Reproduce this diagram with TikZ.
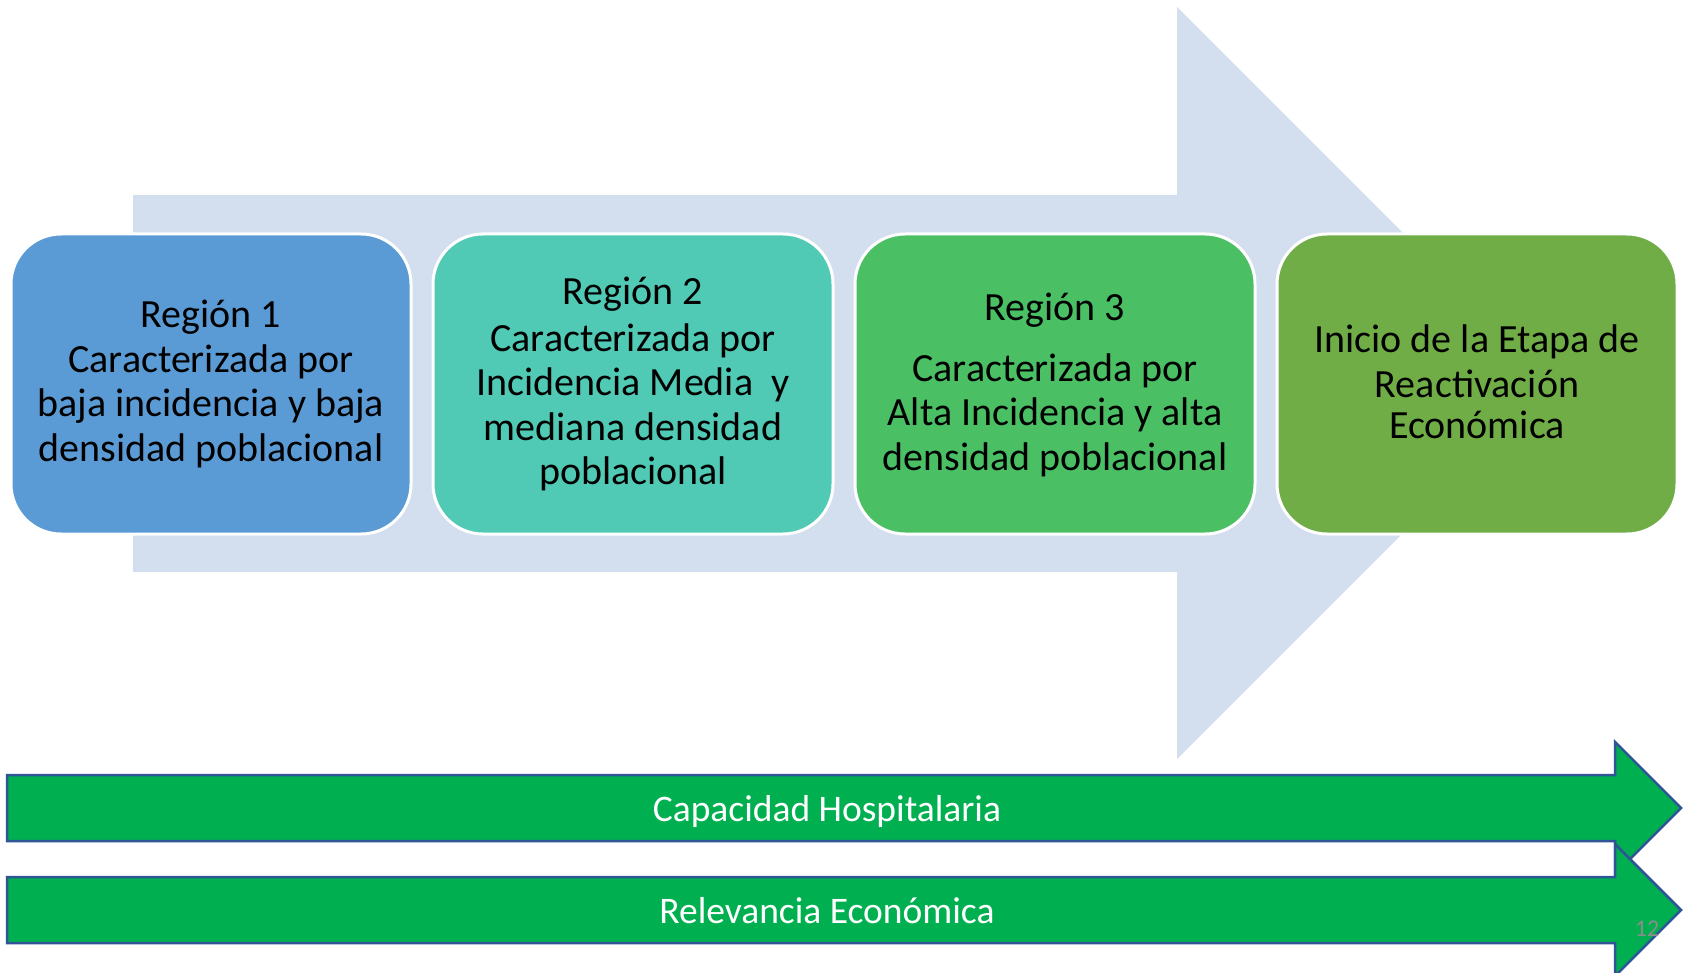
\documentclass[tikz,border=0pt]{standalone}
\usepackage{fontspec}
\setmainfont{Carlito}
\definecolor{bigarrow}{HTML}{D3DEEF}
\definecolor{boxA}{HTML}{5B9BD5}
\definecolor{boxB}{HTML}{50C9B5}
\definecolor{boxC}{HTML}{4ABF64}
\definecolor{boxD}{HTML}{70AD47}
\definecolor{greenarrow}{HTML}{00B050}
\definecolor{arrowborder}{HTML}{2F5597}
\definecolor{pagenum}{HTML}{8C8C8C}
\tikzset{
  regionbox/.style={draw=white, line width=3pt, rounded corners=50pt,
    minimum width=400pt, minimum height=300pt, inner sep=0pt},
  regiontext/.style={align=center, inner sep=0pt,
    font=\fontsize{40}{44.5}\selectfont, text=black},
  barrow/.style={fill=greenarrow, draw=arrowborder, line width=2.5pt, line join=miter},
  barlabel/.style={text=white, font=\fontsize{37.5}{42}\selectfont}
}
\begin{document}
\begin{tikzpicture}[x=1pt,y=-1pt]
\useasboundingbox (0,0) rectangle (1688,973);
% large background arrow
\fill[bigarrow] (133,195) -- (1177,195) -- (1177,7) -- (1553,383) -- (1177,759) -- (1177,572) -- (133,572) -- cycle;
% region boxes
\node[regionbox, fill=boxA] (r1) at (211,384) {};
\node[regionbox, fill=boxB] (r2) at (633,384) {};
\node[regionbox, fill=boxC] (r3) at (1055,384) {};
\node[regionbox, fill=boxD] (r4) at (1477,384) {};
\node[regiontext] (t1) at (r1.center) {Región 1\\Caracterizada por\\baja incidencia y baja\\densidad poblacional};
\node[regiontext] (t2) at (r2.center) {Región 2\\[2pt]Caracterizada por\\Incidencia Media\ \ y\\mediana densidad\\poblacional};
\node[regiontext] (t3) at ([yshift=-1pt]r3.center) {Región 3\\[16pt]Caracterizada por\\Alta Incidencia y alta\\densidad poblacional};
\node[regiontext] (t4) at ([yshift=2pt]r4.center) {Inicio de la Etapa de\\Reactivación\\[-3pt]Económica};
% bottom arrows
\draw[barrow] (7,775) -- (1615,775) -- (1615,742) -- (1681,808) -- (1615,874) -- (1615,841) -- (7,841) -- cycle;
\node[barlabel] (cap) at (827,811) {Capacidad Hospitalaria};
\draw[barrow] (7,877) -- (1615,877) -- (1615,844) -- (1681,910) -- (1615,976) -- (1615,943) -- (7,943) -- cycle;
\node[barlabel] (rel) at (827,911) {Relevancia Económica};
\node[text=pagenum, font=\fontsize{24}{28}\selectfont] (pg) at (1647,929) {12};
\end{tikzpicture}
\end{document}
